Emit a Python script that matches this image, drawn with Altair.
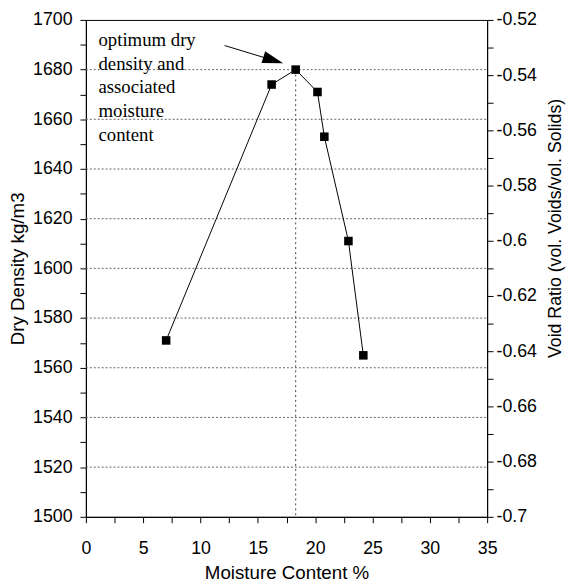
import altair as alt
import pandas as pd

# data
moisture = [7.0, 16.2, 18.3, 20.2, 20.8, 22.9, 24.2]
density = [1571, 1674, 1680, 1671, 1653, 1611, 1565]

opt_moisture = [18.3]
opt_density = [1680]
base_density = [1500]

note_text = ["optimum dry\ndensity and\nassociated\nmoisture\ncontent"]
note_x = [1.1]
note_y = [1695.5]

arrow_x = [12.1, 16.3]
arrow_y = [1689.7, 1683.8]
head_x = [16.34]
head_y = [1683.8]

grid_values = [1520, 1540, 1560, 1580, 1600, 1620, 1640, 1660, 1680]
x_ticks = [i * 2.5 for i in range(15)]
y_ticks = list(range(1500, 1701, 10))
void_ticks = [round(-0.70 + i * 0.01, 2) for i in range(19)]

FONT = "Liberation Sans"

df_main = pd.DataFrame({"x": moisture, "y": density})
df_opt = pd.DataFrame({"x": opt_moisture, "y": opt_density, "y0": base_density})
df_note = pd.DataFrame({"x": note_x, "y": note_y, "t": note_text})
df_arrow = pd.DataFrame({"x": arrow_x, "y": arrow_y})
df_head = pd.DataFrame({"x": head_x, "y": head_y})
df_grid = pd.DataFrame({"x": [0.0] * len(grid_values), "x2": [35.0] * len(grid_values), "y": grid_values})
df_void = pd.DataFrame({"v": void_ticks})

x_scale = alt.Scale(domain=[0, 35], nice=False, zero=False)
y_scale = alt.Scale(domain=[1500, 1700], nice=False, zero=False)

x_axis = alt.Axis(
    title="Moisture Content %",
    values=x_ticks,
    labelExpr="datum.value % 5 == 0 ? datum.label : ''",
    labelFlush=False,
    labelOverlap=False,
    grid=False,
    tickSize=6,
    labelPadding=17,
    titlePadding=7,
)
y_axis = alt.Axis(
    title="Dry Density kg/m3",
    values=y_ticks,
    labelExpr="datum.value % 20 == 0 ? datum.label : ''",
    labelOverlap=False,
    labelFlush=False,
    format="d",
    grid=False,
    tickSize=6,
    labelPadding=8,
    titleX=-69,
    titleY=252,
    titleBaseline="middle",
    titleAlign="center",
)

X = alt.X("x:Q", scale=x_scale, axis=x_axis)
Y = alt.Y("y:Q", scale=y_scale, axis=y_axis)

grid = alt.Chart(df_grid).mark_rule(color="#666666", strokeDash=[2, 2], strokeWidth=1, opacity=1).encode(
    x=X, x2="x2:Q", y=Y
)

line = alt.Chart(df_main).mark_line(color="black", strokeWidth=1).encode(x=X, y=Y)
pts = alt.Chart(df_main).mark_point(
    shape="square", filled=True, color="black", size=75, opacity=1
).encode(x=X, y=Y)

opt_rule = alt.Chart(df_opt).mark_rule(color="#444444", strokeDash=[2, 3], strokeWidth=1).encode(
    x=X, y=Y, y2="y0:Q"
)

note = alt.Chart(df_note).mark_text(
    align="left", baseline="top", font="Liberation Serif", fontSize=19,
    lineBreak="\n", lineHeight=24, color="black"
).encode(x=X, y=Y, text="t:N")

arrow = alt.Chart(df_arrow).mark_line(color="black", strokeWidth=1).encode(x=X, y=Y)
head = alt.Chart(df_head).mark_point(
    shape="M-1,-0.6L1,0L-1,0.6Z", filled=True, color="black", size=440, angle=17, opacity=1
).encode(x=X, y=Y)

main = alt.layer(grid, opt_rule, line, pts, note, arrow, head)

right = alt.Chart(df_void).mark_point(opacity=0).encode(
    y=alt.Y(
        "v:Q",
        scale=alt.Scale(domain=[-0.7, -0.52], nice=False, zero=False),
        axis=alt.Axis(
            orient="right",
            title="Void Ratio (vol. Voids/vol. Solids)",
            titleAngle=270,
            titleX=69,
            titleY=211,
            titleFontSize=18,
            titleBaseline="middle",
            titleAlign="center",
            values=void_ticks,
            labelExpr="abs(round(datum.value * 100)) % 2 == 0 ? '' + datum.value : ''",
            labelOverlap=False,
            labelFlush=False,
            grid=False,
            tickSize=6,
            labelPadding=3,
        ),
    )
)

chart = (
    alt.layer(main, right)
    .resolve_scale(y="independent")
    .properties(
        width=407,
        height=504,
        autosize=alt.AutoSizeParams(type="none"),
        padding={"left": 79, "top": 8, "right": 81, "bottom": 62},
    )
    .configure_view(stroke="black", strokeWidth=1)
    .configure_axis(
        labelFont=FONT,
        titleFont=FONT,
        labelFontSize=18,
        titleFontSize=19,
        labelColor="black",
        titleColor="black",
        titleFontWeight="normal",
        domainColor="black",
        tickColor="black",
    )
)

chart.save("out.html", embed_options={"renderer": "svg", "actions": False})
